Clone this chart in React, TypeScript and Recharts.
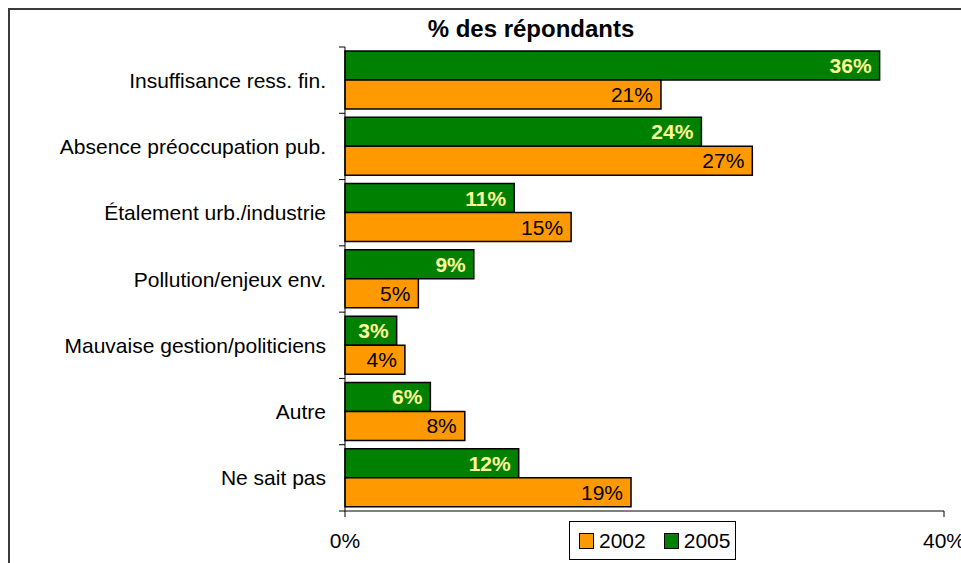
import { BarChart, Bar, XAxis, YAxis, LabelList } from 'recharts';

const categories = [
  'Insuffisance ress. fin.',
  'Absence préoccupation pub.',
  'Étalement urb./industrie',
  'Pollution/enjeux env.',
  'Mauvaise gestion/politiciens',
  'Autre',
  'Ne sait pas',
];
const values2005 = [35.7, 23.8, 11.3, 8.6, 3.45, 5.7, 11.6];
const values2002 = [21.1, 27.2, 15.1, 4.9, 4.0, 8.0, 19.1];
const xTicks = [0, 40];

const ORANGE = '#FF9900';
const GREEN = '#008000';
const FONT = '"Liberation Sans", Arial, sans-serif';

const AXIS_X = 345; // left edge of the plot
const PLOT_TOP = 47;
const PLOT_BOTTOM = 511;
const BAND = (PLOT_BOTTOM - PLOT_TOP) / categories.length;

const data = categories.map((name, i) => ({ name, y2005: values2005[i], y2002: values2002[i] }));

const pct = (v: any) => `${Math.round(Number(v))}%`;

function CategoryTick(props: any) {
  const { y, payload, index } = props;
  const top = y - BAND / 2;
  return (
    <g>
      <line x1={AXIS_X - 6} x2={AXIS_X} y1={top} y2={top} stroke="#000" />
      {index === categories.length - 1 && (
        <line x1={AXIS_X - 6} x2={AXIS_X} y1={top + BAND} y2={top + BAND} stroke="#000" />
      )}
      <text x={AXIS_X - 19} y={y} dy="0.36em" textAnchor="end" fontSize={21} fontFamily={FONT} fill="#000">
        {payload.value}
      </text>
    </g>
  );
}

export default function App() {
  return (
    <div style={{ position: 'absolute', left: 0, top: 0, width: 961, height: 563, overflow: 'hidden', background: '#fff', fontFamily: FONT }}>
      <div style={{ position: 'absolute', left: 8, top: 8, width: 1000, height: 600, border: '2px solid #3a3a3a', boxSizing: 'border-box' }} />
      <div style={{ position: 'absolute', left: 331, width: 400, top: 17, lineHeight: '24px', fontSize: 24, fontWeight: 'bold', textAlign: 'center', color: '#000' }}>
        % des répondants
      </div>
      <BarChart
        width={961}
        height={563}
        data={data}
        layout="vertical"
        margin={{ top: PLOT_TOP, right: 17, bottom: 12, left: 0 }}
        barCategoryGap={4}
        barGap={0}
        style={{ position: 'absolute', left: 0, top: 0 }}
      >
        <XAxis
          type="number"
          domain={[0, 40]}
          ticks={xTicks}
          interval={0}
          height={40}
          tickFormatter={(v: number) => `${v}%`}
          stroke="#000"
          tickSize={6}
          tickMargin={16}
          tick={{ fontSize: 21, fontFamily: FONT, fill: '#000' }}
        />
        <YAxis
          type="category"
          dataKey="name"
          width={AXIS_X}
          stroke="#000"
          tickLine={false}
          interval={0}
          tick={<CategoryTick />}
        />
        <Bar dataKey="y2005" fill={GREEN} stroke="#000" strokeWidth={1.5} isAnimationActive={false}>
          <LabelList
            dataKey="y2005"
            position="insideRight"
            offset={8}
            formatter={pct}
            fill="#FFFF99"
            fontWeight="bold"
            fontSize={21}
            fontFamily={FONT}
          />
        </Bar>
        <Bar dataKey="y2002" fill={ORANGE} stroke="#000" strokeWidth={1.5} isAnimationActive={false}>
          <LabelList
            dataKey="y2002"
            position="insideRight"
            offset={8}
            formatter={pct}
            fill="#000"
            fontSize={21}
            fontFamily={FONT}
          />
        </Bar>
      </BarChart>
      <div
        style={{
          position: 'absolute',
          left: 569,
          top: 521,
          width: 167,
          height: 39,
          border: '1px solid #000',
          boxSizing: 'border-box',
          display: 'flex',
          alignItems: 'center',
          paddingLeft: 9,
          fontSize: 21,
          color: '#000',
        }}
      >
        <span style={{ width: 13, height: 14, background: ORANGE, border: '1.5px solid #000', marginRight: 5 }} />
        <span style={{ marginRight: 18 }}>2002</span>
        <span style={{ width: 13, height: 14, background: GREEN, border: '1.5px solid #000', marginRight: 5 }} />
        <span>2005</span>
      </div>
    </div>
  );
}
